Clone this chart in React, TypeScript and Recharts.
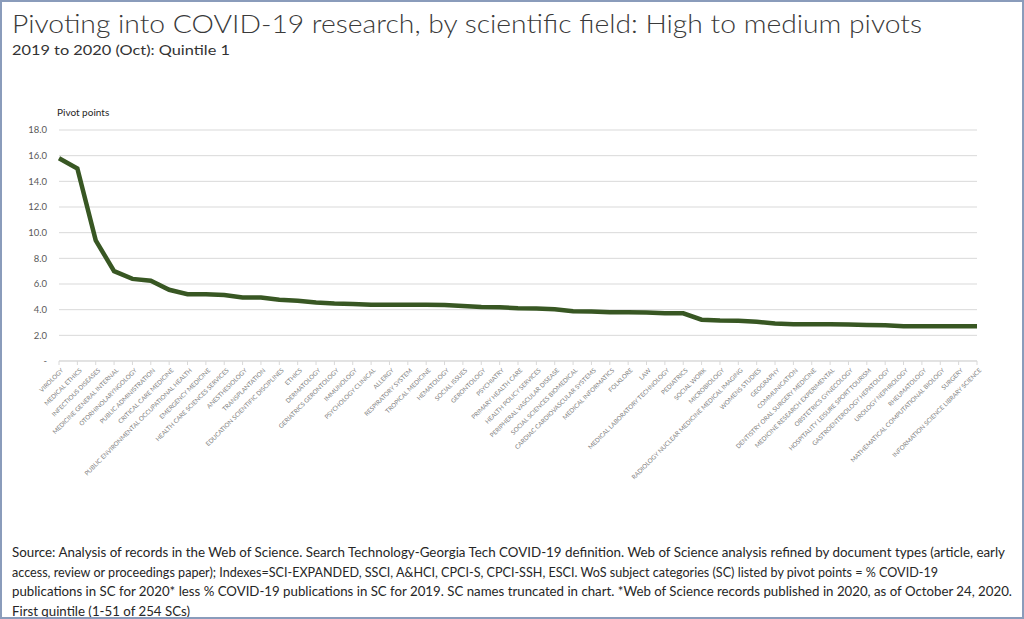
import React from 'react'
import { LineChart, Line, XAxis, YAxis, CartesianGrid } from 'recharts'

const FIELDS: string[] = [
  'VIROLOGY', 'MEDICAL ETHICS', 'INFECTIOUS DISEASES', 'MEDICINE GENERAL INTERNAL',
  'OTORHINOLARYNGOLOGY', 'PUBLIC ADMINISTRATION', 'CRITICAL CARE MEDICINE',
  'PUBLIC ENVIRONMENTAL OCCUPATIONAL HEALTH', 'EMERGENCY MEDICINE',
  'HEALTH CARE SCIENCES SERVICES', 'ANESTHESIOLOGY', 'TRANSPLANTATION',
  'EDUCATION SCIENTIFIC DISCIPLINES', 'ETHICS', 'DERMATOLOGY', 'GERIATRICS GERONTOLOGY',
  'IMMUNOLOGY', 'PSYCHOLOGY CLINICAL', 'ALLERGY', 'RESPIRATORY SYSTEM', 'TROPICAL MEDICINE',
  'HEMATOLOGY', 'SOCIAL ISSUES', 'GERONTOLOGY', 'PSYCHIATRY', 'PRIMARY HEALTH CARE',
  'HEALTH POLICY SERVICES', 'PERIPHERAL VASCULAR DISEASE', 'SOCIAL SCIENCES BIOMEDICAL',
  'CARDIAC CARDIOVASCULAR SYSTEMS', 'MEDICAL INFORMATICS', 'FOLKLORE', 'LAW',
  'MEDICAL LABORATORY TECHNOLOGY', 'PEDIATRICS', 'SOCIAL WORK', 'MICROBIOLOGY',
  'RADIOLOGY NUCLEAR MEDICINE MEDICAL IMAGING', 'WOMENS STUDIES', 'GEOGRAPHY',
  'COMMUNICATION', 'DENTISTRY ORAL SURGERY MEDICINE', 'MEDICINE RESEARCH EXPERIMENTAL',
  'OBSTETRICS GYNECOLOGY', 'HOSPITALITY LEISURE SPORT TOURISM',
  'GASTROENTEROLOGY HEPATOLOGY', 'UROLOGY NEPHROLOGY', 'RHEUMATOLOGY',
  'MATHEMATICAL COMPUTATIONAL BIOLOGY', 'SURGERY', 'INFORMATION SCIENCE LIBRARY SCIENCE',
]

const PIVOT_POINTS: number[] = [
  15.8, 15.0, 9.4, 7.0, 6.4, 6.25, 5.55, 5.2, 5.2, 5.15,
  4.95, 4.95, 4.78, 4.7, 4.55, 4.48, 4.45, 4.38, 4.38, 4.38,
  4.38, 4.37, 4.28, 4.2, 4.18, 4.12, 4.1, 4.04, 3.88, 3.85,
  3.8, 3.8, 3.78, 3.73, 3.72, 3.22, 3.15, 3.14, 3.05, 2.93,
  2.86, 2.86, 2.86, 2.85, 2.8, 2.78, 2.71, 2.7, 2.7, 2.7, 2.7,
]

const Y_TICKS: number[] = [0, 2, 4, 6, 8, 10, 12, 14, 16, 18]

const TITLE = 'Pivoting into COVID-19 research, by scientific field: High to medium pivots'
const SUBTITLE = '2019 to 2020 (Oct): Quintile 1'
const Y_LABEL = 'Pivot points'
const NOTE_LINES: string[] = [
  'Source: Analysis of records in the Web of Science. Search Technology-Georgia Tech COVID-19 definition. Web of Science analysis refined by document types (article, early',
  'access, review or proceedings paper);  Indexes=SCI-EXPANDED, SSCI, A&HCI, CPCI-S, CPCI-SSH, ESCI. WoS subject categories (SC) listed by pivot points = % COVID-19',
  'publications in SC for 2020* less % COVID-19 publications in SC for 2019. SC names truncated in chart. *Web of Science records published in 2020, as of October 24, 2020.',
  'First quintile (1-51 of 254 SCs)',
]

const data = FIELDS.map((name, i) => ({ name, value: PIVOT_POINTS[i] }))

const FONT = 'Lato, "Open Sans", sans-serif'

function FieldTick(props: any) {
  const { x, y, payload } = props
  const ax = x + 2
  const ay = y + 1
  return (
    <text
      x={ax}
      y={ay}
      dy={4}
      transform={`rotate(-45, ${ax}, ${ay})`}
      textAnchor="end"
      fontSize={6.2}
      fontFamily={FONT}
      fill="#808080"
    >
      {payload.value}
    </text>
  )
}

export default function App() {
  return (
    <div
      style={{
        position: 'fixed',
        left: 0,
        top: 0,
        width: 1024,
        height: 619,
        background: '#fff',
        boxSizing: 'border-box',
        border: '2px solid #8a9cbb',
        overflow: 'hidden',
      }}
    >
      <div style={{ position: 'absolute', left: -2, top: -2 }}>
        <LineChart
          width={1024}
          height={535}
          data={data}
          margin={{ top: 130, right: 47, bottom: 164, left: 9 }}
        >
          <CartesianGrid vertical={false} stroke="#d9d9d9" />
          <XAxis
            dataKey="name"
            interval={0}
            tick={<FieldTick />}
            tickSize={4}
            tickMargin={2}
            axisLine={{ stroke: '#d9d9d9' }}
            tickLine={{ stroke: '#d9d9d9' }}
            height={10}
          />
          <YAxis
            width={50}
            domain={[0, 18]}
            ticks={Y_TICKS}
            interval={0}
            axisLine={false}
            tickLine={false}
            tickSize={0}
            tickMargin={12}
            tickFormatter={(v: number) => (v === 0 ? '-' : v.toFixed(1))}
            tick={{ fontSize: 9.5, fill: '#595959', fontFamily: FONT }}
          />
          <Line
            type="linear"
            dataKey="value"
            stroke="#385723"
            strokeWidth={4.5}
            dot={false}
            isAnimationActive={false}
          />
        </LineChart>
        <svg
          width={1024}
          height={619}
          style={{ position: 'absolute', left: 0, top: 0, pointerEvents: 'none' }}
        >
          <text x={12} y={33} fontSize={26} fontWeight={300} fontFamily={FONT} fill="#3a3a3a" textLength={910} lengthAdjust="spacingAndGlyphs">
            {TITLE}
          </text>
          <text x={12} y={55} fontSize={12.5} fontFamily={FONT} fill="#333" textLength={218} lengthAdjust="spacingAndGlyphs">
            {SUBTITLE}
          </text>
          <text x={57} y={116} fontSize={10} fontFamily={FONT} fill="#262626">
            {Y_LABEL}
          </text>
          {NOTE_LINES.map((line, i) => (
            <text
              key={i}
              x={12}
              y={557 + i * 19.5}
              fontSize={12.5}
              fontFamily={FONT}
              fill="#262626"
              textLength={[993, 926, 1000, 178][i]}
              lengthAdjust="spacingAndGlyphs"
            >
              {line}
            </text>
          ))}
        </svg>
      </div>
    </div>
  )
}
